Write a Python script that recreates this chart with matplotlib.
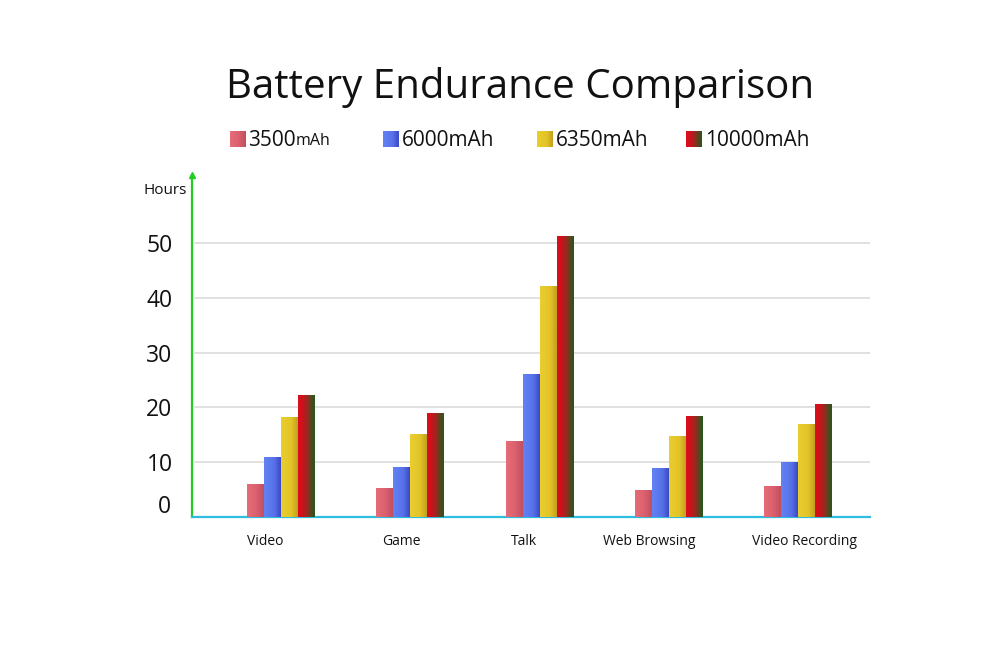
import numpy as np
import matplotlib.pyplot as plt
from matplotlib.colors import LinearSegmentedColormap

plt.rcParams['font.family'] = ['Open Sans', 'DejaVu Sans']

# data
categories = ["Video", "Game", "Talk", "Web Browsing", "Video Recording"]
series_names = ["3500mAh", "6000mAh", "6350mAh", "10000mAh"]
hours_3500 = [6.0, 5.2, 13.9, 4.9, 5.6]
hours_6000 = [10.9, 9.2, 26.1, 9.0, 10.1]
hours_6350 = [18.2, 15.1, 42.2, 14.7, 17.0]
hours_10000 = [22.3, 19.0, 51.3, 18.4, 20.7]
y_ticks = [10, 20, 30, 40, 50]

# category labels are not centred under the groups in the original
label_shift = [-0.12, -0.07, -0.12, -0.15, 0.05]

# gradient colours, left edge -> right edge of every bar
grad_colors = [
    [(0, "#e66c7a"), (0.5, "#de6270"), (1, "#c04f60")],
    [(0, "#6282f2"), (0.6, "#5872ea"), (1, "#3a4ac4")],
    [(0, "#eacd2e"), (0.6, "#e2c428"), (1, "#c4a01e")],
    [(0, "#d8101a"), (0.25, "#d0101a"), (0.6, "#8a3020"), (1, "#1f5c1c")],
]
cmaps = [LinearSegmentedColormap.from_list("g%d" % i, c) for i, c in enumerate(grad_colors)]
grad = np.linspace(0, 1, 64).reshape(1, -1)

fig = plt.figure(figsize=(10, 6.63), dpi=100)
ax = fig.add_axes([0.192, 0.2202, 0.678, 0.516])

x = np.arange(len(categories))
bar_w = 0.1315
all_series = [hours_3500, hours_6000, hours_6350, hours_10000]

for k, vals in enumerate(all_series):
    offs = (k - 1.5) * bar_w
    bars = ax.bar(x + offs, vals, width=bar_w, color="none", edgecolor="none", zorder=3)
    for r in bars:
        x0, y0 = r.get_x(), r.get_y()
        im = ax.imshow(grad, cmap=cmaps[k], aspect="auto",
                       extent=[x0, x0 + r.get_width(), y0, y0 + r.get_height()],
                       zorder=3, interpolation="bilinear")
        im.set_clip_path(r)

ax.set_xlim(-0.689, 4.557)
ax.set_ylim(0, 62.4)

for t in y_ticks:
    ax.axhline(t, color="#dcdcdc", lw=1.2, zorder=1, xmin=0.005)

for sp in ["top", "right"]:
    ax.spines[sp].set_visible(False)
ax.spines["left"].set_color("#22cc22")
ax.spines["left"].set_linewidth(1.6)
ax.spines["bottom"].set_color("#2cbde0")
ax.spines["bottom"].set_linewidth(1.6)
ax.plot(0, 1, marker="^", color="#22cc22", markersize=5, transform=ax.transAxes,
        clip_on=False, zorder=5)

ax.set_yticks(y_ticks)
ax.set_yticklabels([str(t) for t in y_ticks], fontsize=16.5, color="#111111")
ax.tick_params(axis="y", length=0, pad=14)

ax.set_xticks(x + np.array(label_shift))
ax.set_xticklabels(categories, fontsize=10, color="#111111")
ax.tick_params(axis="x", length=0, pad=12)

# title, legend and loose labels drawn in a pixel-sized overlay
ov = fig.add_axes([0, 0, 1, 1], facecolor="none")
ov.axis("off")

ov.text(171, 507, "0", fontsize=16.5, color="#111111", ha="right", va="center")
ov.text(187, 191, "Hours", fontsize=11, ha="right", va="center", color="#111111")

ov.text(520, 87, "Battery Endurance Comparison", fontsize=29, ha="center",
        va="center", color="#111111")

leg_x = [230, 383, 537, 686]
for k, name in enumerate(series_names):
    lx = leg_x[k]
    ov.imshow(grad, cmap=cmaps[k], aspect="auto", extent=[lx, lx + 16, 147, 131],
              interpolation="bilinear")
    if k == 0:
        ov.text(lx + 18, 140, name[:4], fontsize=15, va="center", color="#111111")
        ov.text(lx + 66, 141, name[4:], fontsize=11.5, va="center", color="#111111")
    else:
        ov.text(lx + 19, 140, name, fontsize=15, va="center", color="#111111")
ov.set_xlim(0, 1000)
ov.set_ylim(663, 0)

fig.savefig("out.png", dpi=100)
